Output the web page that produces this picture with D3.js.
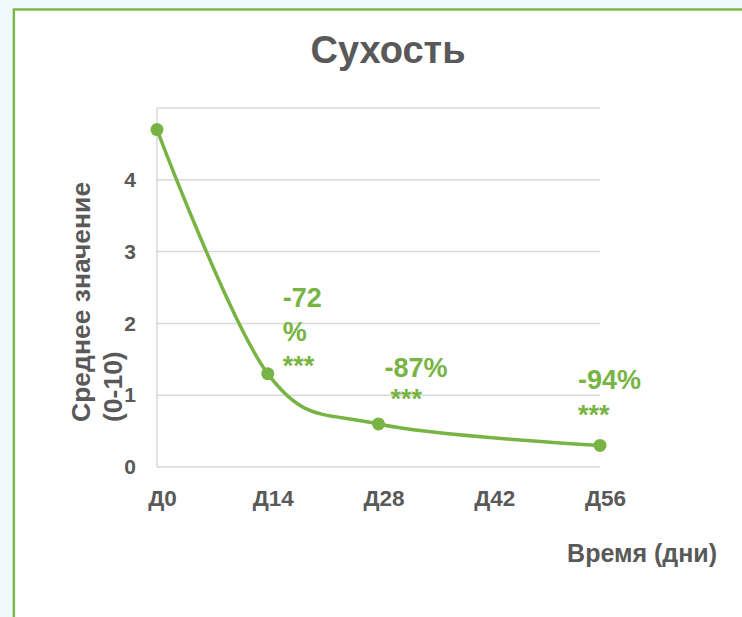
<!DOCTYPE html>
<html>
<head>
<meta charset="utf-8">
<script src="https://cdn.jsdelivr.net/npm/d3@7"></script>
<style>
  html, body { margin: 0; padding: 0; background: #eff8fa; }
  svg { display: block; }
  text { font-family: "Liberation Sans", Arial, sans-serif; font-weight: bold; }
</style>
</head>
<body>
<svg id="chart" width="742" height="617"></svg>
<script>
// Dryness score over time (mean, 0-10 scale)
const chartTitle = "Сухость";
const yTitleLines = ["Среднее значение", "(0-10)"];
const xTitle = "Время (дни)";
const tickDays = [0, 14, 28, 42, 56];
const tickLabels = ["Д0", "Д14", "Д28", "Д42", "Д56"];
const yTicks = [0, 1, 2, 3, 4];
const days = [0, 14, 28, 56];
const scores = [4.7, 1.3, 0.6, 0.3];
// change vs. baseline with significance marks, one entry per follow-up visit
const changeDays = [14, 28, 56];
const changeLines = [["-72", "%", "***"], ["-87%", "***"], ["-94%", "***"]];

const grey = "#595959";
const green = "#78b443";

const svg = d3.select("#chart");

// card
svg.append("rect")
  .attr("x", 13.9).attr("y", 9.5)
  .attr("width", 800).attr("height", 700)
  .attr("fill", "#ffffff")
  .attr("stroke", "#7ab648")
  .attr("stroke-width", 2.4);

const x = d3.scaleLinear().domain([0, 56]).range([157, 600]);
const y = d3.scaleLinear().domain([0, 5]).range([467, 108]);

// title
svg.append("text")
  .attr("x", 388).attr("y", 63)
  .attr("text-anchor", "middle")
  .attr("font-size", 38)
  .attr("fill", grey)
  .text(chartTitle);

// horizontal gridlines
svg.append("g")
  .selectAll("line")
  .data(d3.range(0, 6))
  .join("line")
  .attr("x1", x(0)).attr("x2", x(56))
  .attr("y1", d => y(d)).attr("y2", d => y(d))
  .attr("stroke", "#d9d9d9")
  .attr("stroke-width", 1.5);

// vertical axis line
svg.append("line")
  .attr("x1", x(0)).attr("x2", x(0))
  .attr("y1", y(0)).attr("y2", y(5))
  .attr("stroke", "#d9d9d9")
  .attr("stroke-width", 1.5);

// y axis labels
const yAxis = d3.axisLeft(y).tickValues(yTicks).tickSize(0).tickPadding(21).tickFormat(d3.format("d"));
const gy = svg.append("g").attr("transform", `translate(${x(0)},0)`).call(yAxis);
gy.select(".domain").remove();
gy.selectAll("text")
  .attr("font-size", 21)
  .attr("font-family", "Liberation Sans, Arial, sans-serif")
  .attr("font-weight", "bold")
  .attr("fill", grey);

// x axis labels
const xAxis = d3.axisBottom(x).tickValues(tickDays).tickSize(0).tickPadding(23)
  .tickFormat((d, i) => tickLabels[i]);
const gx = svg.append("g").attr("transform", `translate(0,${y(0)})`).call(xAxis);
gx.select(".domain").remove();
gx.selectAll("text")
  .attr("dx", 5)
  .attr("font-size", 22.5)
  .attr("font-family", "Liberation Sans, Arial, sans-serif")
  .attr("font-weight", "bold")
  .attr("fill", grey);

// y axis title, two lines
const yt = svg.append("text")
  .attr("transform", "translate(90,422) rotate(-90)")
  .attr("font-size", 26.5)
  .attr("fill", grey);
yt.selectAll("tspan")
  .data(yTitleLines)
  .join("tspan")
  .attr("x", 0)
  .attr("dy", (d, i) => i === 0 ? 0 : 32)
  .text(d => d);

// x axis title
svg.append("text")
  .attr("x", 717).attr("y", 562)
  .attr("text-anchor", "end")
  .attr("font-size", 25)
  .attr("fill", grey)
  .text(xTitle);

// smoothed series line
const pts = days.map((d, i) => [x(d), y(scores[i])]);
svg.append("path")
  .datum(pts)
  .attr("fill", "none")
  .attr("stroke", green)
  .attr("stroke-width", 3.5)
  .attr("d", d3.line().curve(d3.curveCardinal.tension(0)));

svg.append("g")
  .selectAll("circle")
  .data(pts)
  .join("circle")
  .attr("cx", d => d[0]).attr("cy", d => d[1])
  .attr("r", 6.5)
  .attr("fill", green);

// change labels
const labelOffsets = [[15, -67, 34], [6, -47, 31], [-22, -56, 35]];
changeDays.forEach((d, i) => {
  const [ox, oy, lh] = labelOffsets[i];
  const scoreIdx = days.indexOf(d);
  const t = svg.append("text")
    .attr("x", x(d) + ox)
    .attr("y", y(scores[scoreIdx]) + oy)
    .attr("font-size", 27)
    .attr("fill", green);
  t.selectAll("tspan")
    .data(changeLines[i])
    .join("tspan")
    .attr("x", (s, j) => x(d) + ox + (i === 1 && j > 0 ? 6 : 0))
    .attr("dy", (s, j) => j === 0 ? 0 : lh)
    .text(s => s);
});
</script>
</body>
</html>
